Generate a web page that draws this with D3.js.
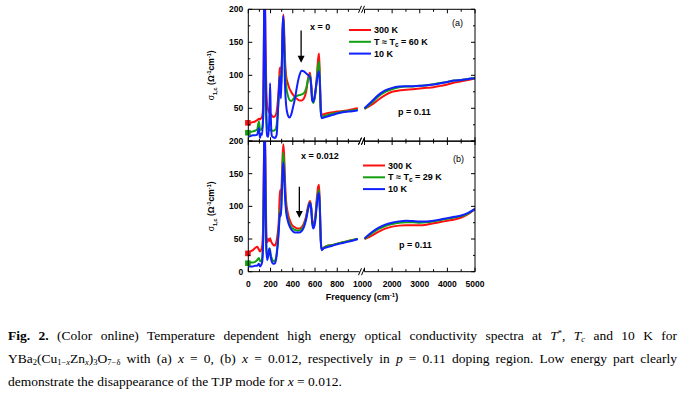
<!DOCTYPE html>
<html>
<head>
<meta charset="utf-8">
<title>sigma 1c spectra</title>
<script src="https://d3js.org/d3.v7.min.js"></script>
<style>
  body { margin:0; background:#fff; }
  #chart { position:absolute; left:0; top:0; }
  .cap { position:absolute; left:8px; top:323.5px; width:669px; font-family:"Liberation Serif","Times New Roman",serif; font-size:13.5px; color:#000; }
  .cap div { height:23px; line-height:23px; text-align:justify; text-align-last:justify; white-space:nowrap; }
  .cap div.last { text-align-last:left; }
  .cap sub { font-size:8.5px; vertical-align:-2px; line-height:0; }
  .cap sup { font-size:8.5px; vertical-align:4px; line-height:0; }
</style>
</head>
<body>
<svg id="chart"></svg>
<div class="cap">
  <div><b>Fig. 2.</b> (Color online) Temperature dependent high energy optical conductivity spectra at <i>T</i><sup>*</sup>, <i>T<sub>c</sub></i> and 10 K for</div>
  <div>YBa<sub>2</sub>(Cu<sub>1−<i>x</i></sub>Zn<sub><i>x</i></sub>)<sub>3</sub>O<sub>7−δ</sub> with (a) <i>x</i> = 0, (b) <i>x</i> = 0.012, respectively in <i>p</i> = 0.11 doping region. Low energy part clearly</div>
  <div class="last">demonstrate the disappearance of the TJP mode for <i>x</i> = 0.012.</div>
</div>
<script>
// frequency grids (cm^-1), left and right of the axis break
var lowFreq = [5, 20, 40, 60, 80, 95, 105, 115, 125, 135, 142, 148, 155, 162, 170, 180, 190, 196, 202, 212,
  225, 240, 255, 265, 275, 282, 287, 293, 300, 308, 315, 322, 330, 340, 355, 370, 385, 400, 420, 440,
  460, 480, 500, 520, 540, 555, 565, 575, 585, 600, 615, 628, 636, 644, 652, 660, 680, 720, 760, 800,
  850, 900, 950, 985];
var highFreq = [1000, 1250, 1500, 1750, 2000, 2250, 2500, 2750, 3000, 3250, 3500, 3750, 4000, 4250, 4500, 4750, 5000];

// panel (a) x = 0
var redLowA = [27, 28, 29, 30, 32, 34, 33, 35, 38, 60, 180, 230, 150, 80, 55, 47, 43, 42, 41, 39,
  37, 38, 45, 60, 85, 108, 112, 95, 110, 165, 192, 170, 125, 100, 88, 80, 75, 71, 67, 64,
  62, 62, 65, 75, 97, 104, 88, 65, 60, 70, 95, 125, 133, 95, 50, 40, 41, 43, 44, 45,
  46, 47, 49, 50];
var greenLowA = [13, 14, 15, 16, 18, 30, 18, 17, 20, 40, 100, 134, 110, 45, 22, 18, 17, 18, 17, 16,
  16, 17, 25, 45, 70, 95, 100, 80, 100, 160, 186, 160, 115, 85, 70, 63, 61, 63, 67, 69,
  70, 71, 73, 80, 95, 100, 85, 62, 58, 68, 92, 115, 121, 90, 45, 37, 38, 40, 42, 43,
  45, 46, 47, 48];
var blueLowA = [7, 8, 9, 9, 10, 20, 5, 12, 10, 50, 200, 240, 120, 30, 8, 7, 40, 88, 40, 8,
  6, 5, 10, 40, 75, 95, 98, 65, 100, 170, 190, 140, 85, 55, 40, 36, 40, 50, 65, 85,
  100, 107, 106, 103, 100, 97, 85, 62, 60, 72, 90, 103, 106, 85, 45, 35, 36, 38, 40, 42,
  44, 45, 46, 47];
var redHighA = [49, 55, 63, 70, 75, 77, 78, 79, 80, 81, 82, 84, 86, 89, 91, 93, 95];
var greenHighA = [49, 58, 68, 75, 79, 82, 83, 83, 84, 85, 86.5, 88.5, 90, 92, 93, 94.5, 95.5];
var blueHighA = [50, 60, 70, 77, 81, 83, 83.5, 83.5, 84, 85, 86, 88, 90, 92, 93, 94.5, 95.5];
var dcA = [28, 13];   // red, green squares at 0 cm^-1

// panel (b) x = 0.012
var redLowB = [30, 31, 33, 36, 38, 34, 31, 33, 40, 80, 200, 240, 150, 60, 45, 50, 47, 51, 48, 44,
  41, 40, 48, 60, 80, 115, 125, 110, 135, 175, 195, 180, 140, 108, 90, 80, 74, 70, 68, 66,
  66, 68, 74, 85, 102, 108, 100, 80, 72, 80, 110, 130, 133, 100, 50, 34, 37, 40, 41, 43,
  45, 47, 49, 50];
var greenLowB = [13, 14, 14, 15, 18, 21, 16, 16, 22, 60, 180, 220, 120, 40, 22, 28, 36, 33, 26, 20,
  16, 17, 28, 45, 70, 90, 95, 88, 120, 160, 182, 165, 125, 98, 82, 74, 68, 66, 64, 63,
  63, 65, 71, 82, 99, 106, 98, 76, 69, 78, 105, 122, 125, 95, 48, 35, 37, 40, 41, 43,
  45, 47, 49, 50];
var blueLowB = [8, 8, 8, 9, 9, 12, 8, 10, 15, 55, 190, 230, 110, 35, 18, 25, 35, 30, 22, 15,
  12, 13, 25, 42, 65, 85, 90, 85, 110, 150, 167, 150, 115, 92, 78, 70, 65, 62, 60, 60,
  60, 62, 68, 80, 97, 105, 97, 74, 66, 75, 100, 118, 121, 92, 45, 33, 36, 38, 40, 42,
  44, 46, 48, 50];
var redHighB = [50, 55, 61, 66, 69, 70.5, 71, 71, 71, 72, 74, 76, 78, 80, 83, 88, 96];
var greenHighB = [50, 58, 65, 70, 73, 75, 75.5, 75.5, 75, 75.5, 77, 79, 81, 83, 85, 89, 96];
var blueHighB = [51, 60, 67, 72, 75, 77, 78, 77.5, 77, 77, 78, 80, 82, 84, 86, 90, 96];
var dcB = [28, 13];

var legendNames = ["300 K", "T \u2248 T", "10 K"];
var colors = ["#ff1010", "#12a012", "#1020ff"];
var yMajor = [0, 50, 100, 150, 200];
var yMinor = [25, 75, 125, 175];
var xLowMajor = [0, 200, 400, 600, 800];
var xLowMinor = [100, 300, 500, 700, 900];
var xHighMajor = [1000, 2000, 3000, 4000, 5000];
var xHighMinor = [1500, 2500, 3500, 4500];

var svg = d3.select("#chart").attr("width", 691).attr("height", 396)
  .style("font-family", "'Liberation Sans', Arial, sans-serif")
  .style("font-weight", "bold");

var L = 248.3, R = 475, breakL = 359.5, breakR = 364.5;
var xLow = d3.scaleLinear().domain([0, 1000]).range([L, breakL]);
var xHigh = d3.scaleLinear().domain([1000, 5000]).range([breakR, R]);

var panels = [
  { key: "a", top: 9.3, bottom: 141.3, low: [redLowA, greenLowA, blueLowA], high: [redHighA, greenHighA, blueHighA],
    dc: dcA, tc: "60", xt: "x = 0", xtPos: [310, 30], tag: [452, 26], legX: 349, legY: 30, pPos: [398, 115],
    arrow: [475, 168, 119], showZero: false, xLabels: false },
  { key: "b", top: 141, bottom: 271.7, low: [redLowB, greenLowB, blueLowB], high: [redHighB, greenHighB, blueHighB],
    dc: dcB, tc: "29", xt: "x = 0.012", xtPos: [301, 159], tag: [453, 162], legX: 363, legY: 165.5, pPos: [399, 248],
    arrow: [459, 130, 82], showZero: true, xLabels: true }
];

panels.forEach(function (p) {
  var y = d3.scaleLinear().domain([0, 200]).range([p.bottom, p.top]);
  var g = svg.append("g");

  g.append("clipPath").attr("id", "clip" + p.key)
    .append("rect").attr("x", L).attr("y", p.top).attr("width", R - L).attr("height", p.bottom - p.top);

  var line = function (xs) {
    return d3.line().x(function (d) { return xs(d[0]); }).y(function (d) { return y(d[1]); })
      .curve(d3.curveMonotoneX);
  };

  var curves = g.append("g").attr("clip-path", "url(#clip" + p.key + ")");
  [0, 1, 2].forEach(function (i) {
    curves.append("path")
      .attr("d", line(xLow)(lowFreq.map(function (f, j) { return [f, p.low[i][j]]; })))
      .attr("fill", "none").attr("stroke", colors[i]).attr("stroke-width", 2);
    curves.append("path")
      .attr("d", line(xHigh)(highFreq.map(function (f, j) { return [f, p.high[i][j]]; })))
      .attr("fill", "none").attr("stroke", colors[i]).attr("stroke-width", 2);
  });

  // DC squares
  p.dc.forEach(function (v, i) {
    g.append("rect").attr("x", xLow(0) - 3.2).attr("y", y(v) - 2.8).attr("width", 5.6).attr("height", 5.6)
      .attr("fill", colors[i]);
  });

  // frame with break
  var fr = g.append("g").attr("stroke", "#000").attr("stroke-width", 1).attr("fill", "none");
  fr.append("line").attr("x1", L).attr("x2", L).attr("y1", p.top).attr("y2", p.bottom);
  fr.append("line").attr("x1", R).attr("x2", R).attr("y1", p.top).attr("y2", p.bottom);
  [p.top, p.bottom].forEach(function (yy) {
    fr.append("line").attr("x1", L).attr("x2", breakL).attr("y1", yy).attr("y2", yy);
    fr.append("line").attr("x1", breakR).attr("x2", R).attr("y1", yy).attr("y2", yy);
    [breakL + 0.5, breakR - 1.5].forEach(function (bx) {
      fr.append("line").attr("x1", bx - 1.5).attr("y1", yy + 3.5).attr("x2", bx + 1.5).attr("y2", yy - 3.5);
    });
  });

  // y ticks, left and right
  yMajor.concat(yMinor).forEach(function (v) {
    var len = yMajor.indexOf(v) >= 0 ? 4 : 2;
    fr.append("line").attr("x1", L).attr("x2", L + len).attr("y1", y(v)).attr("y2", y(v));
    fr.append("line").attr("x1", R).attr("x2", R - len).attr("y1", y(v)).attr("y2", y(v));
  });
  yMajor.forEach(function (v) {
    if (v === 0 && !p.showZero) return;
    g.append("text").attr("x", L - 5).attr("y", y(v)).attr("dy", "0.35em")
      .attr("text-anchor", "end").attr("font-size", 8.5).text(v);
  });

  // x ticks, top and bottom
  var xt = [];
  xLowMajor.forEach(function (v) { xt.push([xLow(v), 4]); });
  xLowMinor.forEach(function (v) { xt.push([xLow(v), 2.5]); });
  xHighMajor.forEach(function (v) { xt.push([xHigh(v), 4]); });
  xHighMinor.forEach(function (v) { xt.push([xHigh(v), 2.5]); });
  xt.forEach(function (t) {
    fr.append("line").attr("x1", t[0]).attr("x2", t[0]).attr("y1", p.bottom).attr("y2", p.bottom - t[1]);
    fr.append("line").attr("x1", t[0]).attr("x2", t[0]).attr("y1", p.top).attr("y2", p.top + t[1]);
  });
  if (p.xLabels) {
    xLowMajor.forEach(function (v) {
      g.append("text").attr("x", xLow(v)).attr("y", p.bottom + 15).attr("text-anchor", "middle")
        .attr("font-size", 8.5).text(v);
    });
    xHighMajor.forEach(function (v) {
      g.append("text").attr("x", xHigh(v) - (v === 1000 ? 2 : 0)).attr("y", p.bottom + 15).attr("text-anchor", "middle")
        .attr("font-size", 8.5).text(v);
    });
    var fl = g.append("text").attr("x", 362).attr("y", p.bottom + 28.5).attr("text-anchor", "middle")
      .attr("font-size", 9);
    fl.append("tspan").text("Frequency (cm");
    fl.append("tspan").attr("dy", -3.5).attr("font-size", 6).text("-1");
    fl.append("tspan").attr("dy", 3.5).text(")");
  }

  // y label
  var yl = g.append("text").attr("transform", "translate(214," + ((p.top + p.bottom) / 2) + ") rotate(-90)")
    .attr("text-anchor", "middle").attr("font-size", 8.5);
  yl.append("tspan").attr("font-weight", "normal").text("\u03c3");
  yl.append("tspan").attr("dy", 2.5).attr("font-size", 5.5).text("1,c");
  yl.append("tspan").attr("dy", -2.5).text(" (\u03a9");
  yl.append("tspan").attr("dy", -3.5).attr("font-size", 5.5).text("-1");
  yl.append("tspan").attr("dy", 3.5).text("cm");
  yl.append("tspan").attr("dy", -3.5).attr("font-size", 5.5).text("-1");
  yl.append("tspan").attr("dy", 3.5).text(")");

  // annotations
  g.append("text").attr("x", p.xtPos[0]).attr("y", p.xtPos[1]).attr("font-size", 9).text(p.xt);
  g.append("text").attr("x", p.tag[0]).attr("y", p.tag[1]).attr("font-size", 9).attr("font-weight", "normal").text("(" + p.key + ")");
  g.append("text").attr("x", p.pPos[0]).attr("y", p.pPos[1]).attr("font-size", 9).text("p = 0.11");

  legendNames.forEach(function (name, i) {
    var yy = p.legY + i * 11.8;
    g.append("line").attr("x1", p.legX).attr("x2", p.legX + 22).attr("y1", yy).attr("y2", yy)
      .attr("stroke", colors[i]).attr("stroke-width", 2);
    var t = g.append("text").attr("x", p.legX + 25).attr("y", yy).attr("dy", "0.35em").attr("font-size", 9);
    if (i === 1) {
      t.append("tspan").text(name);
      t.append("tspan").attr("dy", 2).attr("font-size", 6.5).text("c");
      t.append("tspan").attr("dy", -2).text(" = " + p.tc + " K");
    } else {
      t.text(name);
    }
  });

  // arrow
  var ax = xLow(p.arrow[0]), ay0 = y(p.arrow[1]), ay1 = y(p.arrow[2]);
  g.append("line").attr("x1", ax).attr("x2", ax).attr("y1", ay0).attr("y2", ay1 - 6)
    .attr("stroke", "#000").attr("stroke-width", 1.3);
  g.append("path").attr("d", "M" + (ax - 3.5) + "," + (ay1 - 7) + "L" + (ax + 3.5) + "," + (ay1 - 7) + "L" + ax + "," + ay1 + "Z")
    .attr("fill", "#000");
});
</script>
</body>
</html>
